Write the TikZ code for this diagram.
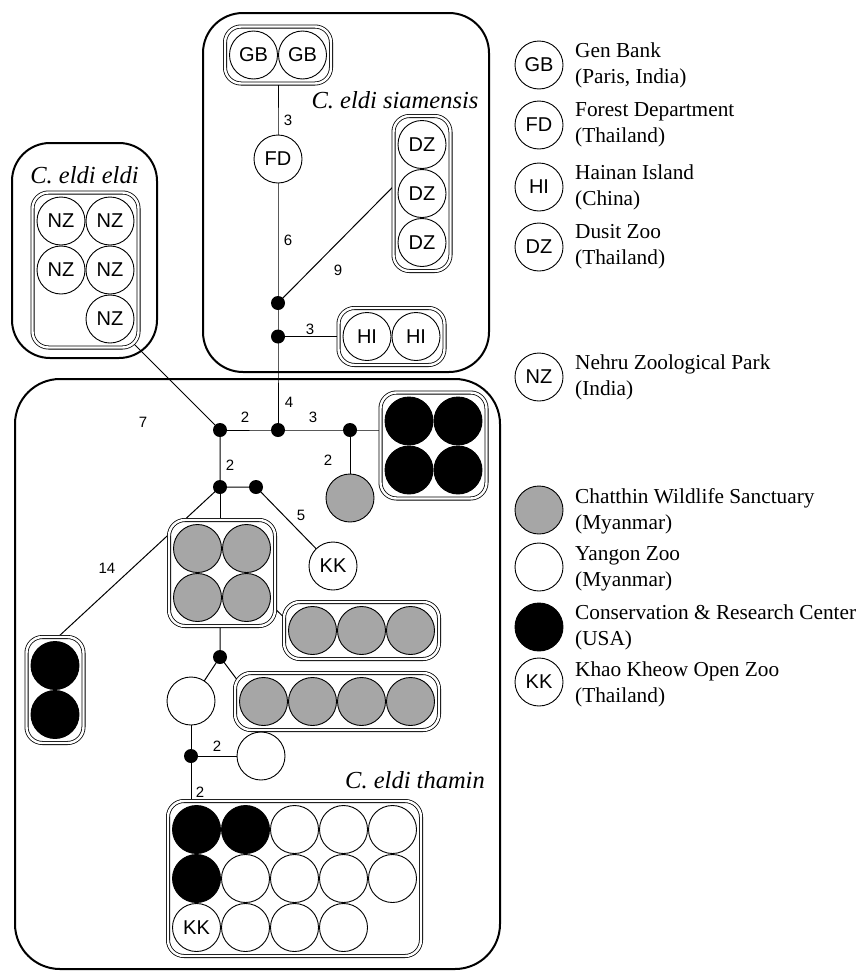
\documentclass[tikz,border=0pt]{standalone}
\usepackage{fontspec}
\setmainfont{Liberation Serif}
\setsansfont{Liberation Sans}
\usetikzlibrary{calc,backgrounds}
\begin{document}
\begin{tikzpicture}[x=1pt,y=-1pt,
  circ/.style={circle,draw,line width=0.9pt,minimum size=48pt,inner sep=0pt,fill=white,font=\sffamily\fontsize{20}{20}\selectfont},
  gcirc/.style={circ,fill=black!35},
  bcirc/.style={circ,fill=black},
  jdot/.style={circle,fill=black,minimum size=14pt,inner sep=0pt},
  ibox/.style={rectangle,rounded corners=16pt,draw,double,line width=0.8pt,double distance=2.4pt,fill=white,inner sep=0pt},
  obox/.style={rectangle,rounded corners=40pt,draw,line width=2pt,inner sep=0pt},
  conn/.style={line width=1pt},
  num/.style={font=\sffamily\fontsize{15}{15}\selectfont,inner sep=1pt},
  ttl/.style={font=\itshape\fontsize{24.5}{26}\selectfont,inner sep=0pt},
  leg/.style={anchor=west,align=left,font=\fontsize{21.3}{26}\selectfont,inner sep=0pt}]
\useasboundingbox (0,0) rectangle (861,972);

% outer group boxes
\node[obox,minimum width=286pt,minimum height=359pt] (siam) at (346,192.5) {};
\node[obox,rounded corners=38pt,minimum width=145pt,minimum height=215pt] (eldi) at (84.5,250.5) {};
\node[obox,rounded corners=45pt,minimum width=485pt,minimum height=590pt] (tham) at (257.5,674) {};

\node[ttl] (tsiam) at (395,100) {C. eldi siamensis};
\node[ttl] (teldi) at (84.5,175) {C. eldi eldi};
\node[ttl] (ttham) at (415,780) {C. eldi thamin};

% siamensis
\node[ibox,minimum width=106pt,minimum height=57pt] (gbbox) at (278,55) {};
\node[circ] (gb1) at (253.5,55) {GB};
\node[circ] (gb2) at (302.5,55) {GB};
\node[circ] (fd) at (278,159) {FD};
\node[jdot] (j1) at (278,303) {};
\node[jdot] (j2) at (278,336.5) {};
\node[ibox,minimum width=57pt,minimum height=155pt] (dzbox) at (422,193.5) {};
\node[circ] (dz1) at (422,144.5) {DZ};
\node[circ] (dz2) at (422,193.5) {DZ};
\node[circ] (dz3) at (422,242.5) {DZ};
\node[ibox,minimum width=106pt,minimum height=57pt] (hibox) at (391.5,336.5) {};
\node[circ] (hi1) at (367,336.5) {HI};
\node[circ] (hi2) at (416,336.5) {HI};

% eldi
\node[ibox,minimum width=106pt,minimum height=155pt] (nzbox) at (85.5,270) {};
\node[circ] (nz1) at (61,221) {NZ};
\node[circ] (nz2) at (110,221) {NZ};
\node[circ] (nz3) at (61,270) {NZ};
\node[circ] (nz4) at (110,270) {NZ};
\node[circ] (nz5) at (110,319) {NZ};

% thamin
\node[jdot] (jA) at (220,430) {};
\node[jdot] (jB) at (278,430) {};
\node[jdot] (jC) at (350,430) {};
\node[jdot] (jD) at (220,487) {};
\node[jdot] (jE) at (256,487) {};
\node[ibox,minimum width=106pt,minimum height=106pt] (bbox) at (433.5,445.5) {};
\node[bcirc] (b1) at (409,421) {};
\node[bcirc] (b2) at (458,421) {};
\node[bcirc] (b3) at (409,470) {};
\node[bcirc] (b4) at (458,470) {};
\node[gcirc] (gs) at (350,498) {};
\node[circ] (kk1) at (333,566) {KK};
\node[ibox,minimum width=106pt,minimum height=106pt] (g4box) at (222,573) {};
\node[gcirc] (g4a) at (197.5,548.5) {};
\node[gcirc] (g4b) at (246.5,548.5) {};
\node[gcirc] (g4c) at (197.5,597.5) {};
\node[gcirc] (g4d) at (246.5,597.5) {};
\node[ibox,minimum width=155pt,minimum height=57pt] (g3box) at (361.5,630.5) {};
\node[gcirc] (g3a) at (312.5,630.5) {};
\node[gcirc] (g3b) at (361.5,630.5) {};
\node[gcirc] (g3c) at (410.5,630.5) {};
\node[ibox,minimum width=57pt,minimum height=106pt] (bstack) at (55,690) {};
\node[bcirc] (bs1) at (55,665.5) {};
\node[bcirc] (bs2) at (55,714.5) {};
\node[jdot] (jF) at (220,657) {};
\node[circ] (w1) at (191,701) {};
\node[ibox,minimum width=204pt,minimum height=57pt] (g4row) at (337,701.5) {};
\node[gcirc] (g4r1) at (263.5,701.5) {};
\node[gcirc] (g4r2) at (312.5,701.5) {};
\node[gcirc] (g4r3) at (361.5,701.5) {};
\node[gcirc] (g4r4) at (410.5,701.5) {};
\node[jdot] (jG) at (191,756) {};
\node[circ] (w2) at (261,756) {};
\node[ibox,minimum width=253pt,minimum height=155pt] (grid) at (294.5,878.5) {};
\node[bcirc] (c11) at (196.5,829.5) {};
\node[bcirc] (c12) at (245.5,829.5) {};
\node[circ] (c13) at (294.5,829.5) {};
\node[circ] (c14) at (343.5,829.5) {};
\node[circ] (c15) at (392.5,829.5) {};
\node[bcirc] (c21) at (196.5,878.5) {};
\node[circ] (c22) at (245.5,878.5) {};
\node[circ] (c23) at (294.5,878.5) {};
\node[circ] (c24) at (343.5,878.5) {};
\node[circ] (c25) at (392.5,878.5) {};
\node[circ] (c31) at (196.5,927.5) {KK};
\node[circ] (c32) at (245.5,927.5) {};
\node[circ] (c33) at (294.5,927.5) {};
\node[circ] (c34) at (343.5,927.5) {};

% connectors (behind the filled boxes and circles)
\begin{scope}[on background layer]
\draw[conn] (gbbox.center) -- (fd.center) -- (j1.center) -- (j2.center) -- (jB.center);
\draw[conn] (j1.center) -- ($(dzbox.west)+(16,-23)$);
\draw[conn] (j2.center) -- (hibox.center);
\draw[conn] (jA.center) -- (jB.center) -- (jC.center) -- (jC -| bbox.center);
\draw[conn] (jC.center) -- (gs.center);
\draw[conn] (jA.center) -- ($(nzbox.south east)+(-14,-13)$);
\draw[conn] (jA.center) -- (jD.center) -- (jE.center) -- (kk1.center);
\draw[conn] (jD.center) -- (jD |- g4box.center);
\draw[conn] (jD.center) -- ($(bstack.north)+(-3,6)$);
\draw[conn] ($(g4box.south east)+(-8,-25)$) -- ($(g3box.west)+(12,-2)$);
\draw[conn] (jF |- g4box.center) -- (jF.center) -- (w1.center);
\draw[conn] (jF.center) -- ($(g4r1.center)+(-10,0)$);
\draw[conn] (w1.center) -- (jG.center) -- (w2.center);
\draw[conn] (jG.center) -- (jG |- grid.center);
\end{scope}

% branch labels
\node[num] (n1) at (288,120) {3};
\node[num] (n2) at (288,240) {6};
\node[num] (n3) at (338,270) {9};
\node[num] (n4) at (310,329) {3};
\node[num] (n5) at (289,402) {4};
\node[num] (n6) at (143,422) {7};
\node[num] (n7) at (245,417) {2};
\node[num] (n8) at (313,417) {3};
\node[num] (n9) at (230,465) {2};
\node[num] (n10) at (328,460) {2};
\node[num] (n11) at (301,515) {5};
\node[num] (n12) at (107,568) {14};
\node[num] (n13) at (217,746) {2};
\node[num] (n14) at (200,792) {2};

% legend
\node[circ] (lgb) at (539,65) {GB};
\node[leg] (tgb) at (575,65) {Gen Bank\\(Paris, India)};
\node[circ] (lfd) at (539,125) {FD};
\node[leg] (tfd) at (575,125) {Forest Department\\(Thailand)};
\node[circ] (lhi) at (539,187) {HI};
\node[leg] (thi) at (575,187) {Hainan Island\\(China)};
\node[circ] (ldz) at (539,247) {DZ};
\node[leg] (tdz) at (575,247) {Dusit Zoo\\(Thailand)};
\node[circ] (lnz) at (539,377) {NZ};
\node[leg] (tnz) at (575,377) {Nehru Zoological Park\\(India)};
\node[gcirc] (lgr) at (539,510) {};
\node[leg] (tgr) at (575,511) {Chatthin Wildlife Sanctuary\\(Myanmar)};
\node[circ] (lwh) at (539,567) {};
\node[leg] (twh) at (575,569) {Yangon Zoo\\(Myanmar)};
\node[bcirc] (lbk) at (539,627) {};
\node[leg] (tbk) at (575,627) {Conservation \& Research Center\\(USA)};
\node[circ] (lkk) at (539,682) {KK};
\node[leg] (tkk) at (575,684) {Khao Kheow Open Zoo\\(Thailand)};
\end{tikzpicture}
\end{document}
